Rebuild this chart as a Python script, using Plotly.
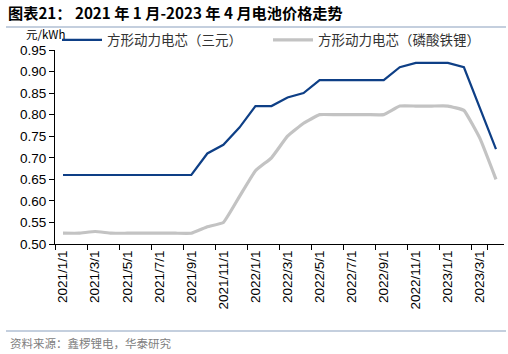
import plotly.graph_objects as go

months = ["2021/1/1", "2021/2/1", "2021/3/1", "2021/4/1", "2021/5/1", "2021/6/1",
          "2021/7/1", "2021/8/1", "2021/9/1", "2021/10/1", "2021/11/1", "2021/12/1",
          "2022/1/1", "2022/2/1", "2022/3/1", "2022/4/1", "2022/5/1", "2022/6/1",
          "2022/7/1", "2022/8/1", "2022/9/1", "2022/10/1", "2022/11/1", "2022/12/1",
          "2023/1/1", "2023/2/1", "2023/3/1", "2023/4/1"]

ncm = [0.66, 0.66, 0.66, 0.66, 0.66, 0.66, 0.66, 0.66, 0.66, 0.71, 0.73, 0.77,
       0.82, 0.82, 0.84, 0.85, 0.88, 0.88, 0.88, 0.88, 0.88, 0.91, 0.92, 0.92,
       0.92, 0.91, 0.815, 0.72]

lfp = [0.525, 0.525, 0.529, 0.525, 0.525, 0.525, 0.525, 0.525, 0.525, 0.54, 0.55, 0.61,
       0.67, 0.70, 0.75, 0.78, 0.80, 0.80, 0.80, 0.80, 0.80, 0.82, 0.82, 0.82,
       0.82, 0.81, 0.745, 0.65]

tick_labels = months[::2]
y_ticks = [0.50, 0.55, 0.60, 0.65, 0.70, 0.75, 0.80, 0.85, 0.90, 0.95]

name_ncm = "方形动力电芯（三元）"
name_lfp = "方形动力电芯（磷酸铁锂）"
title = "图表21： 2021 年 1 月-2023 年 4 月电池价格走势"
source = "资料来源：鑫椤锂电，华泰研究"
unit = "元/kWh"

FONT = "Liberation Sans, Arial, Noto Sans CJK SC, sans-serif"
CJK = "Noto Sans CJK SC, sans-serif"

fig = go.Figure()
fig.add_trace(go.Scatter(x=months, y=ncm, mode="lines", name=name_ncm,
                         line=dict(color="#0e3f86", width=2.2)))
fig.add_trace(go.Scatter(x=months, y=lfp, mode="lines", name=name_lfp,
                         line=dict(color="#c3c3c3", width=3.2, shape="spline", smoothing=0.3)))

fig.update_layout(
    width=508, height=354,
    margin=dict(l=55, r=4, t=50, b=110),
    paper_bgcolor="white", plot_bgcolor="white",
    font=dict(family=FONT, size=13.5, color="#000000"),
    showlegend=True,
    legend=dict(orientation="h", x=(57 - 55) / 449, y=1 + (50 - 40) / 194,
                xanchor="left", yanchor="middle",
                font=dict(family=CJK, size=13.5, color="#333333"),
                bgcolor="rgba(0,0,0,0)", itemwidth=40, entrywidth=156, entrywidthmode="pixels",
                tracegroupgap=0, borderwidth=0),
    xaxis=dict(type="category", range=[-0.5, 27.5], tickmode="array",
               tickvals=tick_labels, ticktext=tick_labels, tickangle=-90,
               tickson="boundaries", ticks="outside", ticklen=5, tickcolor="#000",
               showline=True, linecolor="#000", linewidth=1, showgrid=False,
               tickfont=dict(family=FONT, size=13.5)),
    yaxis=dict(range=[0.50, 0.95], tickmode="array", tickvals=y_ticks,
               ticktext=[f"{v:.2f}" for v in y_ticks],
               ticks="outside", ticklen=5, tickcolor="#000",
               showline=True, linecolor="#000", linewidth=1, showgrid=False,
               zeroline=False, tickfont=dict(family=FONT, size=13.5)),
)

fig.add_annotation(text=f"<b>{title}</b>", xref="paper", yref="paper",
                   x=(6 - 55) / 449, y=1 + (50 - 12) / 194, xanchor="left", yanchor="middle",
                   showarrow=False, font=dict(family=CJK, size=15.2, color="#000"))
fig.add_shape(type="line", xref="paper", yref="paper",
              x0=(6 - 55) / 449, x1=(506 - 55) / 449, y0=1 + (50 - 27) / 194, y1=1 + (50 - 27) / 194,
              line=dict(color="#8aa0bd", width=1.2))
fig.add_annotation(text=unit, xref="paper", yref="paper",
                   x=(66 - 55) / 449, y=1 + (50 - 34) / 194, xanchor="right", yanchor="middle",
                   showarrow=False, borderpad=0, font=dict(family=CJK, size=11.5, color="#000"))
fig.add_shape(type="line", xref="paper", yref="paper",
              x0=(6 - 55) / 449, x1=(506 - 55) / 449, y0=(244 - 331) / 194, y1=(244 - 331) / 194,
              line=dict(color="#8aa0bd", width=1.2))
fig.add_annotation(text=source, xref="paper", yref="paper",
                   x=(8 - 55) / 449, y=(244 - 343) / 194, xanchor="left", yanchor="middle",
                   showarrow=False, font=dict(family=CJK, size=11.5, color="#808080"))

fig.write_html("out.html")
